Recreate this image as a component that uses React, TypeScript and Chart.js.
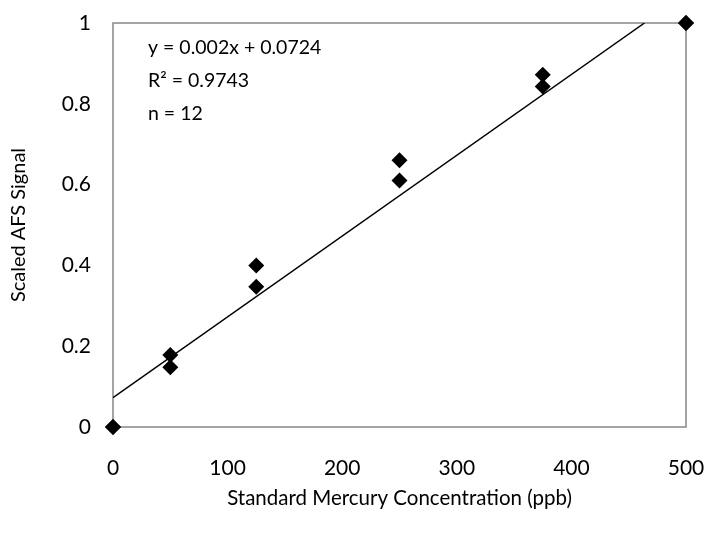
import React, { useEffect, useRef } from 'react';
import { Chart, registerables } from 'chart.js';

Chart.register(...registerables);

// Data
const concentration = [0, 0, 50, 50, 125, 125, 250, 250, 375, 375, 500, 500];
const signal = [0, 0, 0.148, 0.178, 0.347, 0.4, 0.61, 0.66, 0.843, 0.872, 1, 1];
const slope = 0.002;
const intercept = 0.0724;
const equationLines = ['y = 0.002x + 0.0724', 'R² = 0.9743', 'n = 12'];
const xTitle = 'Standard Mercury Concentration (ppb)';
const yTitle = 'Scaled AFS Signal';

const FONT = 'Lato, "Open Sans", sans-serif';

const boxAndText = {
  id: 'boxAndText',
  beforeDatasetsDraw(chart: any) {
    const { ctx, chartArea } = chart;
    ctx.save();
    ctx.strokeStyle = '#878787';
    ctx.lineWidth = 1.5;
    ctx.strokeRect(chartArea.left, chartArea.top, chartArea.right - chartArea.left, chartArea.bottom - chartArea.top);
    ctx.restore();
  },
  afterDraw(chart: any) {
    const { ctx, chartArea } = chart;
    ctx.save();
    ctx.fillStyle = '#000';
    ctx.font = `19.5px ${FONT}`;
    ctx.textBaseline = 'middle';
    ctx.textAlign = 'left';
    equationLines.forEach((t, i) => {
      ctx.fillText(t, chartArea.left + 35, chartArea.top + 25 + i * 33);
    });
    ctx.restore();
  },
};

export default function App() {
  const ref = useRef<HTMLCanvasElement | null>(null);
  useEffect(() => {
    if (!ref.current) return;
    const points = concentration.map((x, i) => ({ x, y: signal[i] }));
    const xEnd = (1 - intercept) / slope;
    const trend = [
      { x: 0, y: intercept },
      { x: xEnd, y: slope * xEnd + intercept },
    ];
    const chart = new Chart(ref.current, {
      type: 'scatter',
      data: {
        datasets: [
          {
            type: 'line',
            data: trend,
            borderColor: '#000',
            borderWidth: 1.5,
            pointRadius: 0,
            fill: false,
          } as any,
          {
            data: points,
            pointStyle: 'rectRot',
            pointRadius: 8,
            backgroundColor: '#000',
            borderColor: '#000',
            borderWidth: 0,
            clip: false,
          } as any,
        ],
      },
      plugins: [boxAndText],
      options: {
        animation: false,
        responsive: true,
        maintainAspectRatio: false,
        layout: { padding: { top: 23, right: 25, left: 0, bottom: 0 } },
        plugins: { legend: { display: false }, tooltip: { enabled: false } },
        scales: {
          x: {
            type: 'linear',
            min: 0,
            max: 500,
            afterFit: (s: any) => { s.height = 106; s.paddingLeft = 0; s.paddingRight = 0; },
            grid: { display: false, drawTicks: false },
            border: { display: false },
            ticks: { stepSize: 100, padding: 29, color: '#000', font: { family: FONT, size: 21 } },
            title: { display: true, text: xTitle, color: '#000', font: { family: FONT, size: 20.5 }, padding: { top: 0, bottom: 22 } },
          },
          y: {
            type: 'linear',
            min: 0,
            max: 1,
            afterFit: (s: any) => { s.width = 113; s.paddingTop = 0; s.paddingBottom = 0; },
            grid: { display: false, drawTicks: false },
            border: { display: false },
            ticks: {
              stepSize: 0.2,
              padding: 22,
              color: '#000',
              font: { family: FONT, size: 21 },
              callback: (v: any) => String(+Number(v).toFixed(1)),
            },
            title: { display: true, text: yTitle, color: '#000', font: { family: FONT, size: 20 }, padding: { top: 7, bottom: 0 } },
          },
        },
      },
    });
    return () => chart.destroy();
  }, []);
  return (
    <div style={{ position: 'absolute', left: 0, top: 0, width: 711, height: 533 }}>
      <canvas ref={ref} />
    </div>
  );
}
